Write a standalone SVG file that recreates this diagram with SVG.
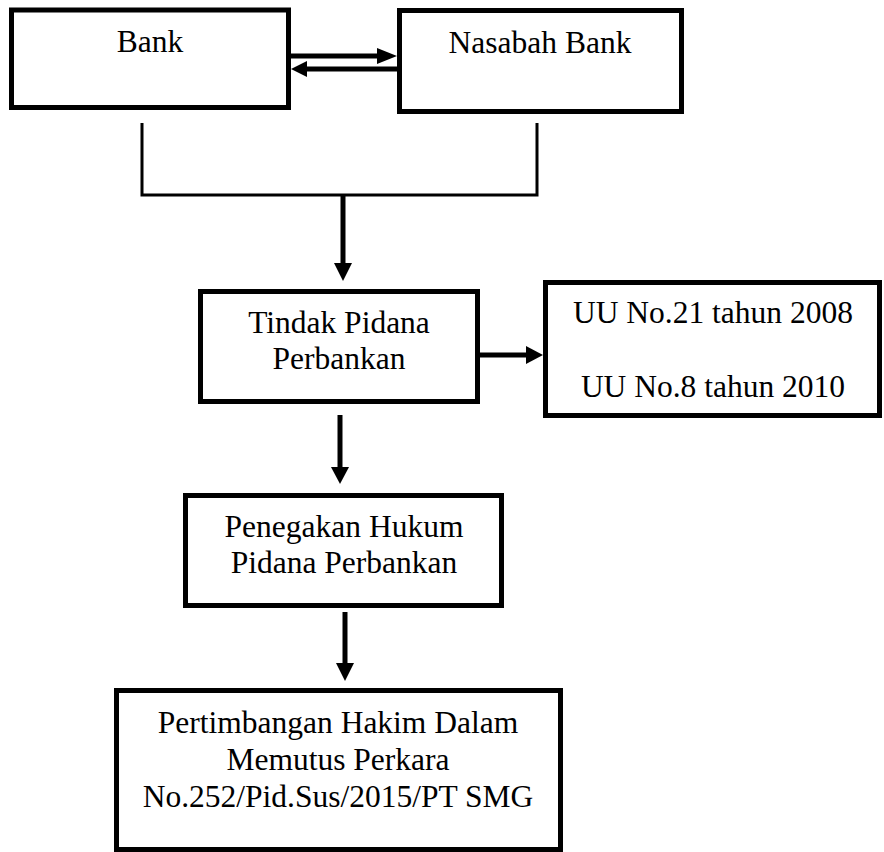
<svg xmlns="http://www.w3.org/2000/svg" width="884" height="852" viewBox="0 0 884 852">
<style>
.box{fill:#fff;stroke:#000;stroke-width:5}
.t{font-family:"Liberation Serif","Times New Roman",serif;font-size:31.5px;fill:#000;text-anchor:middle}
.ln{stroke:#000;stroke-width:5;fill:none}
.br{stroke:#000;stroke-width:3;fill:none}
.hd{fill:#000}
</style>
<rect width="884" height="852" fill="#fff"/>
<g id="bank"><rect class="box" x="11.5" y="10" width="277" height="97.5"/><text class="t" x="150" y="52">Bank</text></g>
<g id="nasabah"><rect class="box" x="399.5" y="10.5" width="282" height="101"/><text class="t" x="540" y="53">Nasabah Bank</text></g>
<g id="tindak"><rect class="box" x="200.5" y="291.5" width="277" height="110"/><text class="t" x="339" y="333">Tindak Pidana</text><text class="t" x="339" y="369">Perbankan</text></g>
<g id="uu"><rect class="box" x="545.5" y="282.5" width="334" height="133"/><text class="t" x="713" y="323">UU No.21 tahun 2008</text><text class="t" x="713" y="397">UU No.8 tahun 2010</text></g>
<g id="penegakan"><rect class="box" x="185.5" y="495.5" width="316" height="110"/><text class="t" x="344" y="537">Penegakan Hukum</text><text class="t" x="344" y="573">Pidana Perbankan</text></g>
<g id="pertimbangan"><rect class="box" x="116.5" y="690.5" width="444" height="159"/><text class="t" x="338" y="733">Pertimbangan Hakim Dalam</text><text class="t" x="338" y="770">Memutus Perkara</text><text class="t" x="338" y="807">No.252/Pid.Sus/2015/PT SMG</text></g>
<g id="connectors">
<line class="ln" x1="291" y1="56" x2="378" y2="56"/><polygon class="hd" points="377,48 397,56 377,64"/>
<line class="ln" x1="397" y1="69" x2="306" y2="69"/><polygon class="hd" points="307,61 291,69 307,77"/>
<polyline class="br" points="142,123 142,195 537,195 537,123"/>
<line class="ln" x1="343" y1="195" x2="343" y2="264"/><polygon class="hd" points="334,263 343,281 352,263"/>
<line class="ln" x1="480" y1="355" x2="527" y2="355"/><polygon class="hd" points="526,346 543,355 526,364"/>
<line class="ln" x1="340" y1="415" x2="340" y2="468"/><polygon class="hd" points="331,467 340,484 349,467"/>
<line class="ln" x1="345" y1="612" x2="345" y2="664"/><polygon class="hd" points="336,663 345,681 354,663"/>
</g>
</svg>
